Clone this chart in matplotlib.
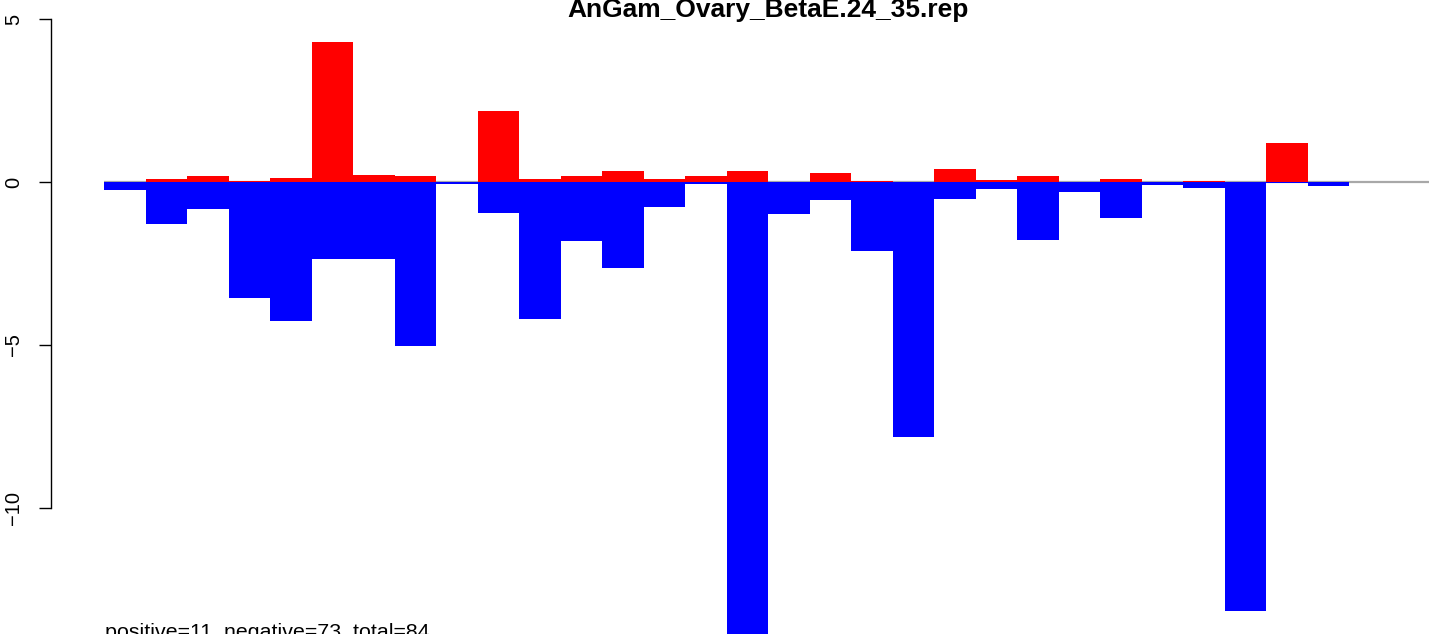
import matplotlib.pyplot as plt
import numpy as np

plt.rcParams['font.family'] = ['Liberation Sans', 'DejaVu Sans']

title = "AnGam_Ovary_BetaE.24_35.rep"
summary = "positive=11, negative=73, total=84"

# one value pair per bar position (red up, blue down)
pos_vals = [0.0, 0.08, 0.18, 0.02, 0.11, 4.29, 0.21, 0.18, 0.0, 2.18,
            0.08, 0.18, 0.33, 0.08, 0.18, 0.33, 0.0, 0.27, 0.03, 0.0,
            0.39, 0.06, 0.18, 0.0, 0.08, 0.0, 0.03, 0.0, 1.20, 0.0]
neg_vals = [-0.25, -1.30, -0.83, -3.55, -4.25, -2.35, -2.35, -5.03, -0.07, -0.96,
            -4.20, -1.81, -2.65, -0.77, -0.06, -14.5, -0.98, -0.55, -2.12, -7.82,
            -0.53, -0.22, -1.78, -0.31, -1.11, -0.10, -0.18, -13.15, -0.03, -0.13]
yticks = [5, 0, -5, -10]

W, H = 1429, 634
fig = plt.figure(figsize=(W / 100, H / 100), dpi=100)
ax_left = 50.5
ax = fig.add_axes([ax_left / W, 0, 1 - ax_left / W, 1])

# pixel mapping from the reference: x_px = 104 + 41.5*x, y_px = 182 - 32.6*y
bw = 41.5
ax.set_xlim((ax_left - 104) / bw, (W - 104) / bw)
ax.set_ylim(-(H - 182) / 32.6, 182 / 32.6)

x = np.arange(len(pos_vals))
ax.hlines(0, 0, (W - 104) / bw, color='#a8a8a8', lw=1.6, zorder=1)
ax.bar(x, pos_vals, width=1, align='edge', color='#ff0000', lw=0, zorder=2)
ax.bar(x, neg_vals, width=1, align='edge', color='#0000ff', lw=0, zorder=2)

for s in ['top', 'right', 'bottom']:
    ax.spines[s].set_visible(False)
ax.spines['left'].set_bounds(-10, 5)
ax.spines['left'].set_linewidth(1.0)
ax.set_xticks([])
ax.set_yticks(yticks)
ax.set_yticklabels([str(t).replace('-', '\u2212') for t in yticks], rotation=90,
                   va='center', fontsize=14.5)
ax.tick_params(axis='y', length=8.6, width=1.0, pad=11)

fig.text(768 / W, 1 - 17 / H, title, ha='center', va='baseline',
         fontsize=19, fontweight='bold')
fig.text(105 / W, 1 - 638 / H, summary, ha='left', va='baseline', fontsize=15.4)

fig.savefig('out.png', dpi=100)
